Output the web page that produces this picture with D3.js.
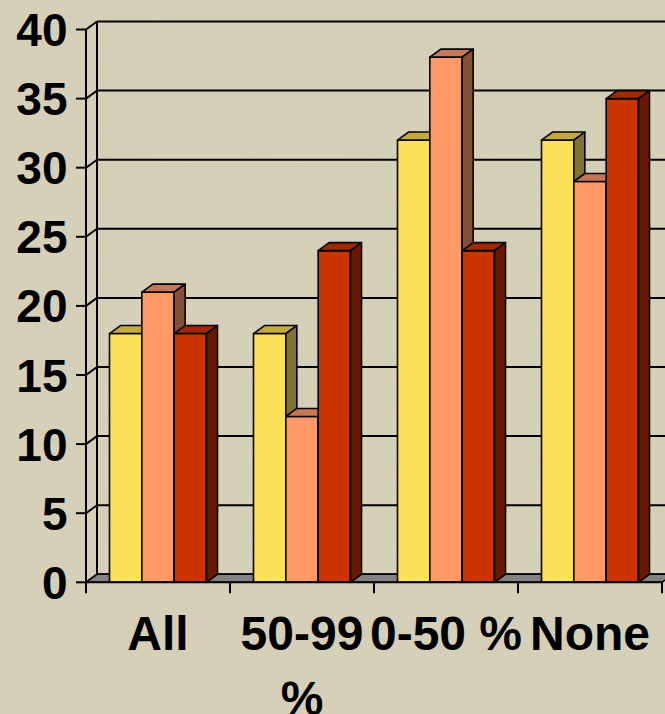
<!DOCTYPE html>
<html>
<head>
<meta charset="utf-8">
<script src="https://cdn.jsdelivr.net/npm/d3@7/dist/d3.min.js"></script>
<style>
  html, body { margin: 0; padding: 0; background: #d6d0b9; }
  svg { display: block; }
</style>
</head>
<body>
<svg id="chart" width="665" height="714"></svg>
<script>
// Categories along the x axis (line breaks mark wrapped labels)
const categories = ["All", "50-99 %", "0-50 %", "None"];
const categoryLines = [["All"], ["50-99", "%"], ["0-50 %"], ["None"]];

// Three series, one value per category
const series1 = [18, 18, 32, 32];
const series2 = [21, 12, 38, 29];
const series3 = [18, 24, 24, 35];
const allSeries = [series1, series2, series3];

// Value axis ticks
const yTicks = [0, 5, 10, 15, 20, 25, 30, 35, 40];

// Face colours per series: front, top, side
const faceColors = [
  { front: "#f9e057", top: "#c2aa3e", side: "#807530" },
  { front: "#ff9966", top: "#c87656", side: "#864f33" },
  { front: "#cc3300", top: "#a12800", side: "#661900" }
];

const svg = d3.select("#chart");
const W = 665, H = 714;

// Parchment-like background texture
const defs = svg.append("defs");
const tex = defs.append("filter").attr("id", "paper")
  .attr("x", 0).attr("y", 0).attr("width", "100%").attr("height", "100%");
tex.append("feTurbulence").attr("type", "fractalNoise")
  .attr("baseFrequency", "0.012 0.06").attr("numOctaves", 3).attr("seed", 7);
tex.append("feColorMatrix").attr("type", "matrix")
  .attr("values", "0 0 0 0 0.55  0 0 0 0 0.52  0 0 0 0 0.42  0.35 0 0 0 -0.1");
svg.append("rect").attr("width", W).attr("height", H).attr("fill", "#d6d0b9");
svg.append("rect").attr("width", W).attr("height", H)
  .attr("filter", "url(#paper)").attr("opacity", 0.35);

// Plot geometry
const plotLeft = 86, plotRight = 662;
const depthX = 11, depthY = 8;

const y = d3.scaleLinear().domain([0, 40]).range([582.3, 29.5]);
const x0 = d3.scaleBand().domain(categories).range([plotLeft, plotRight]);
const x1 = d3.scaleBand().domain(d3.range(allSeries.length))
  .range([23.5, x0.bandwidth() - 23.5]);

const y0 = y(0);
const ink = "#000";

// Back wall gridlines
svg.append("g").selectAll("line").data(yTicks).join("line")
  .attr("x1", plotLeft + depthX).attr("x2", W + 20)
  .attr("y1", d => y(d) - depthY).attr("y2", d => y(d) - depthY)
  .attr("stroke", ink).attr("stroke-width", 2);

// Back wall left edge
svg.append("line")
  .attr("x1", plotLeft + depthX).attr("x2", plotLeft + depthX)
  .attr("y1", y(40) - depthY).attr("y2", y0 - depthY)
  .attr("stroke", ink).attr("stroke-width", 2);

// Side wall gridlines (diagonals from front axis to back wall)
svg.append("g").selectAll("line").data(yTicks).join("line")
  .attr("x1", plotLeft).attr("x2", plotLeft + depthX)
  .attr("y1", d => y(d)).attr("y2", d => y(d) - depthY)
  .attr("stroke", ink).attr("stroke-width", 2);

// Floor
svg.append("polygon")
  .attr("points", [
    [plotLeft, y0], [plotLeft + depthX, y0 - depthY],
    [plotRight + depthX, y0 - depthY], [plotRight, y0]
  ].map(p => p.join(",")).join(" "))
  .attr("fill", "#838383").attr("stroke", ink).attr("stroke-width", 1.5)
  .attr("stroke-linejoin", "round");

// Bars: drawn left to right so each bar covers its neighbour's side face
const bars = [];
categories.forEach((c, ci) => {
  allSeries.forEach((s, si) => {
    bars.push({ cat: c, si, value: s[ci] });
  });
});

const barG = svg.append("g");
bars.forEach(b => {
  const bx = x0(b.cat) + x1(b.si);
  const bw = x1.bandwidth();
  const by = y(b.value);
  const col = faceColors[b.si];
  const g = barG.append("g")
    .attr("stroke", ink).attr("stroke-width", 1.6).attr("stroke-linejoin", "round");
  g.append("rect")
    .attr("x", bx).attr("y", by).attr("width", bw).attr("height", y0 - by)
    .attr("fill", col.front);
  g.append("polygon")
    .attr("points", [
      [bx, by], [bx + depthX, by - depthY], [bx + bw + depthX, by - depthY], [bx + bw, by]
    ].map(p => p.join(",")).join(" "))
    .attr("fill", col.top);
  g.append("polygon")
    .attr("points", [
      [bx + bw, by], [bx + bw + depthX, by - depthY], [bx + bw + depthX, y0 - depthY], [bx + bw, y0]
    ].map(p => p.join(",")).join(" "))
    .attr("fill", col.side);
});

// Front value axis line and ticks
svg.append("line")
  .attr("x1", plotLeft).attr("x2", plotLeft)
  .attr("y1", y(40)).attr("y2", y0)
  .attr("stroke", ink).attr("stroke-width", 2);
svg.append("g").selectAll("line").data(yTicks).join("line")
  .attr("x1", plotLeft - 10).attr("x2", plotLeft)
  .attr("y1", d => y(d)).attr("y2", d => y(d))
  .attr("stroke", ink).attr("stroke-width", 2);

// Category axis line and boundary ticks
svg.append("line")
  .attr("x1", plotLeft).attr("x2", plotRight)
  .attr("y1", y0).attr("y2", y0)
  .attr("stroke", ink).attr("stroke-width", 2);
const boundaries = categories.map(c => x0(c)).concat([plotRight]);
svg.append("g").selectAll("line").data(boundaries).join("line")
  .attr("x1", d => d).attr("x2", d => d)
  .attr("y1", y0).attr("y2", y0 + 11)
  .attr("stroke", ink).attr("stroke-width", 2);

// Value labels
svg.append("g").selectAll("text").data(yTicks).join("text")
  .attr("x", 67.5).attr("y", d => y(d) + 16.5)
  .attr("text-anchor", "end")
  .attr("font-family", "'Liberation Sans', Arial, sans-serif")
  .attr("font-weight", "bold").attr("font-size", 46)
  .attr("fill", ink)
  .text(d => d);

// Category labels
const catLabels = svg.append("g");
categories.forEach((c, i) => {
  const t = catLabels.append("text")
    .attr("x", x0(c) + x0.bandwidth() / 2)
    .attr("y", 650)
    .attr("text-anchor", "middle")
    .attr("font-family", "'Liberation Sans', Arial, sans-serif")
    .attr("font-weight", "bold").attr("font-size", 48)
    .attr("fill", ink);
  categoryLines[i].forEach((line, li) => {
    t.append("tspan")
      .attr("x", x0(c) + x0.bandwidth() / 2)
      .attr("dy", li === 0 ? 0 : 65)
      .text(line);
  });
});
</script>
</body>
</html>
